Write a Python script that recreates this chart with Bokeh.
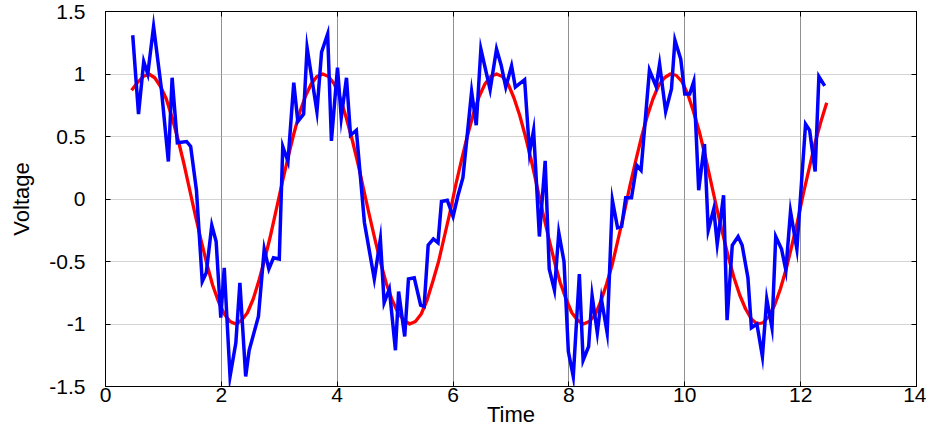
from bokeh.plotting import figure
from bokeh.models import Range1d, FixedTicker, LinearAxis
from bokeh.embed import file_html
from bokeh.resources import INLINE

# ---- data ----
red_t = [0.45, 0.55, 0.65, 0.75, 0.85, 0.95, 1.05, 1.15, 1.25, 1.35,
         1.45, 1.55, 1.65, 1.75, 1.85, 1.95, 2.05, 2.15, 2.25, 2.35,
         2.45, 2.55, 2.65, 2.75, 2.85, 2.95, 3.05, 3.15, 3.25, 3.35,
         3.45, 3.55, 3.65, 3.75, 3.85, 3.95, 4.05, 4.15, 4.25, 4.35,
         4.45, 4.55, 4.65, 4.75, 4.85, 4.95, 5.05, 5.15, 5.25, 5.35,
         5.45, 5.55, 5.65, 5.75, 5.85, 5.95, 6.05, 6.15, 6.25, 6.35,
         6.45, 6.55, 6.65, 6.75, 6.85, 6.95, 7.05, 7.15, 7.25, 7.35,
         7.45, 7.55, 7.65, 7.75, 7.85, 7.95, 8.05, 8.15, 8.25, 8.35,
         8.45, 8.55, 8.65, 8.75, 8.85, 8.95, 9.05, 9.15, 9.25, 9.35,
         9.45, 9.55, 9.65, 9.75, 9.85, 9.95, 10.05, 10.15, 10.25, 10.35,
         10.45, 10.55, 10.65, 10.75, 10.85, 10.95, 11.05, 11.15, 11.25, 11.35,
         11.45, 11.55, 11.65, 11.75, 11.85, 11.95, 12.05, 12.15, 12.25, 12.35,
         12.45]
red_v = [0.87, 0.93, 0.98, 1.00, 0.97, 0.90, 0.80, 0.65, 0.48, 0.29,
         0.08, -0.13, -0.33, -0.52, -0.69, -0.82, -0.92, -0.98, -1.00, -0.97,
         -0.91, -0.80, -0.65, -0.48, -0.29, -0.08, 0.13, 0.33, 0.52, 0.69,
         0.82, 0.92, 0.98, 1.00, 0.98, 0.92, 0.81, 0.66, 0.49, 0.30,
         0.09, -0.12, -0.32, -0.51, -0.68, -0.81, -0.91, -0.97, -1.00, -0.98,
         -0.92, -0.81, -0.66, -0.50, -0.30, -0.10, 0.12, 0.32, 0.51, 0.68,
         0.82, 0.92, 0.98, 1.00, 0.98, 0.92, 0.81, 0.67, 0.50, 0.31,
         0.10, -0.11, -0.31, -0.50, -0.67, -0.80, -0.91, -0.97, -1.00, -0.98,
         -0.93, -0.82, -0.68, -0.52, -0.32, -0.12, 0.10, 0.30, 0.49, 0.66,
         0.80, 0.91, 0.97, 1.00, 0.99, 0.94, 0.84, 0.70, 0.54, 0.35,
         0.14, -0.07, -0.27, -0.46, -0.63, -0.77, -0.88, -0.96, -1.00, -0.99,
         -0.94, -0.85, -0.72, -0.56, -0.37, -0.17, 0.05, 0.25, 0.45, 0.62,
         0.77]

blue_t = [0.47, 0.57, 0.66, 0.73, 0.83, 0.96, 1.085, 1.15, 1.24, 1.40,
          1.47, 1.57, 1.67, 1.74, 1.835, 1.91, 1.99, 2.05, 2.15, 2.25,
          2.32, 2.42, 2.48, 2.64, 2.74, 2.82, 2.90, 3.00, 3.06, 3.15,
          3.25, 3.32, 3.42, 3.48, 3.65, 3.73, 3.835, 3.90, 4.005, 4.07,
          4.16, 4.23, 4.33, 4.47, 4.64, 4.745, 4.81, 4.90, 5.005, 5.06,
          5.165, 5.23, 5.33, 5.44, 5.50, 5.57, 5.66, 5.74, 5.80, 5.90,
          6.00, 6.08, 6.17, 6.32, 6.40, 6.48, 6.64, 6.75, 6.83, 6.91,
          7.01, 7.075, 7.235, 7.32, 7.39, 7.49, 7.59, 7.66, 7.75, 7.825,
          7.915, 7.99, 8.075, 8.18, 8.245, 8.34, 8.40, 8.49, 8.56, 8.66,
          8.75, 8.84, 8.91, 8.98, 9.08, 9.17, 9.245, 9.39, 9.505, 9.565,
          9.67, 9.77, 9.83, 9.93, 10.00, 10.085, 10.155, 10.24, 10.34, 10.405,
          10.50, 10.56, 10.67, 10.73, 10.82, 10.92, 10.99, 11.09, 11.15, 11.245,
          11.34, 11.415, 11.505, 11.57, 11.67, 11.745, 11.825, 11.935, 12.085, 12.155,
          12.25, 12.315, 12.415]
blue_v = [1.31, 0.68, 1.10, 1.00, 1.38, 0.90, 0.30, 0.97, 0.45, 0.46,
          0.42, 0.07, -0.66, -0.59, -0.21, -0.34, -0.95, -0.55, -1.42, -1.15,
          -0.67, -1.42, -1.21, -0.94, -0.40, -0.56, -0.47, -0.48, 0.42, 0.30,
          0.93, 0.62, 0.68, 1.21, 0.70, 1.175, 1.32, 0.465, 1.05, 0.65,
          0.97, 0.51, 0.55, -0.19, -0.64, -0.32, -0.83, -0.72, -1.21, -0.74,
          -1.10, -0.64, -0.63, -0.85, -0.86, -0.37, -0.32, -0.35, -0.02, -0.01,
          -0.14, 0.02, 0.17, 0.86, 0.59, 1.20, 0.875, 1.20, 1.07, 0.895,
          1.065, 0.895, 0.955, 0.37, 0.55, -0.30, 0.305, -0.56, -0.73, -0.27,
          -0.50, -1.22, -1.42, -0.60, -1.29, -1.18, -0.775, -1.07, -0.80, -1.07,
          -0.01, -0.23, -0.22, 0.01, 0.01, 0.27, 0.23, 1.03, 0.90, 1.08,
          0.70, 0.88, 1.27, 1.12, 0.84, 0.84, 0.94, 0.07, 0.44, -0.25,
          -0.08, -0.36, 0.03, -0.97, -0.37, -0.30, -0.37, -0.63, -1.03, -1.00,
          -1.26, -0.80, -1.03, -0.30, -0.40, -0.57, -0.10, -0.40, 0.60, 0.55,
          0.22, 0.98, 0.905]

x_ticks = [0, 2, 4, 6, 8, 10, 12, 14]
x_tick_labels = ["0", "2", "4", "6", "8", "10", "12", "14"]
y_ticks = [-1.5, -1, -0.5, 0, 0.5, 1, 1.5]
y_tick_labels = ["-1.5", "-1", "-0.5", "0", "0.5", "1", "1.5"]
x_label = "Time"
y_label = "Voltage"

FONT = "Liberation Sans"

p = figure(width=926, height=429, output_backend="svg", toolbar_location=None,
           x_range=Range1d(x_ticks[0], x_ticks[-1]),
           y_range=Range1d(y_ticks[0], y_ticks[-1]),
           min_border_left=105, min_border_right=10, min_border_top=11,
           min_border_bottom=5)
p.background_fill_color = "white"
p.border_fill_color = "white"
p.outline_line_color = "black"
p.outline_line_width = 1

# grid
p.xgrid.ticker = FixedTicker(ticks=x_ticks)
p.ygrid.ticker = FixedTicker(ticks=y_ticks)
p.xgrid.grid_line_color = "#909090"
p.xgrid.grid_line_width = 1
p.ygrid.grid_line_color = "#a8a8a8"
p.ygrid.grid_line_dash = "1 1"
p.ygrid.grid_line_width = 1

def style_axis(ax, ticks, labels, standoff, show_labels=True):
    ax.ticker = FixedTicker(ticks=ticks)
    ax.axis_line_color = "black"
    ax.major_tick_line_color = "black"
    ax.major_tick_in = 5
    ax.major_tick_out = 0
    ax.minor_tick_line_color = None
    ax.major_label_standoff = standoff
    ax.major_label_text_font = FONT
    if show_labels:
        ax.major_label_overrides = {t: l for t, l in zip(ticks, labels)}
        ax.major_label_text_font_size = "21px"
        ax.major_label_text_color = "black"
    else:
        ax.major_label_overrides = {t: "" for t in ticks}
        ax.major_label_text_font_size = "1px"
        ax.major_label_text_color = None

style_axis(p.xaxis[0], x_ticks, x_tick_labels, 1)
style_axis(p.yaxis[0], y_ticks, y_tick_labels, 20)

p.yaxis[0].axis_label = y_label
p.yaxis[0].axis_label_text_font = FONT
p.yaxis[0].axis_label_text_font_size = "22px"
p.yaxis[0].axis_label_text_font_style = "normal"
p.yaxis[0].axis_label_text_color = "black"
p.yaxis[0].axis_label_standoff = 12

p.xaxis[0].axis_label = x_label
p.xaxis[0].axis_label_text_font = FONT
p.xaxis[0].axis_label_text_font_size = "22px"
p.xaxis[0].axis_label_text_font_style = "normal"
p.xaxis[0].axis_label_text_color = "black"
p.xaxis[0].axis_label_standoff = -3

top_ax = LinearAxis()
style_axis(top_ax, x_ticks, x_tick_labels, 0, show_labels=False)
p.add_layout(top_ax, "above")
right_ax = LinearAxis()
style_axis(right_ax, y_ticks, y_tick_labels, 0, show_labels=False)
p.add_layout(right_ax, "right")

# data
p.line(red_t, red_v, line_color="#ff0000", line_width=3.3, line_join="round")
p.line(blue_t, blue_v, line_color="#0000ff", line_width=3.5, line_join="miter")

open("out.html", "w").write(file_html(p, INLINE))
